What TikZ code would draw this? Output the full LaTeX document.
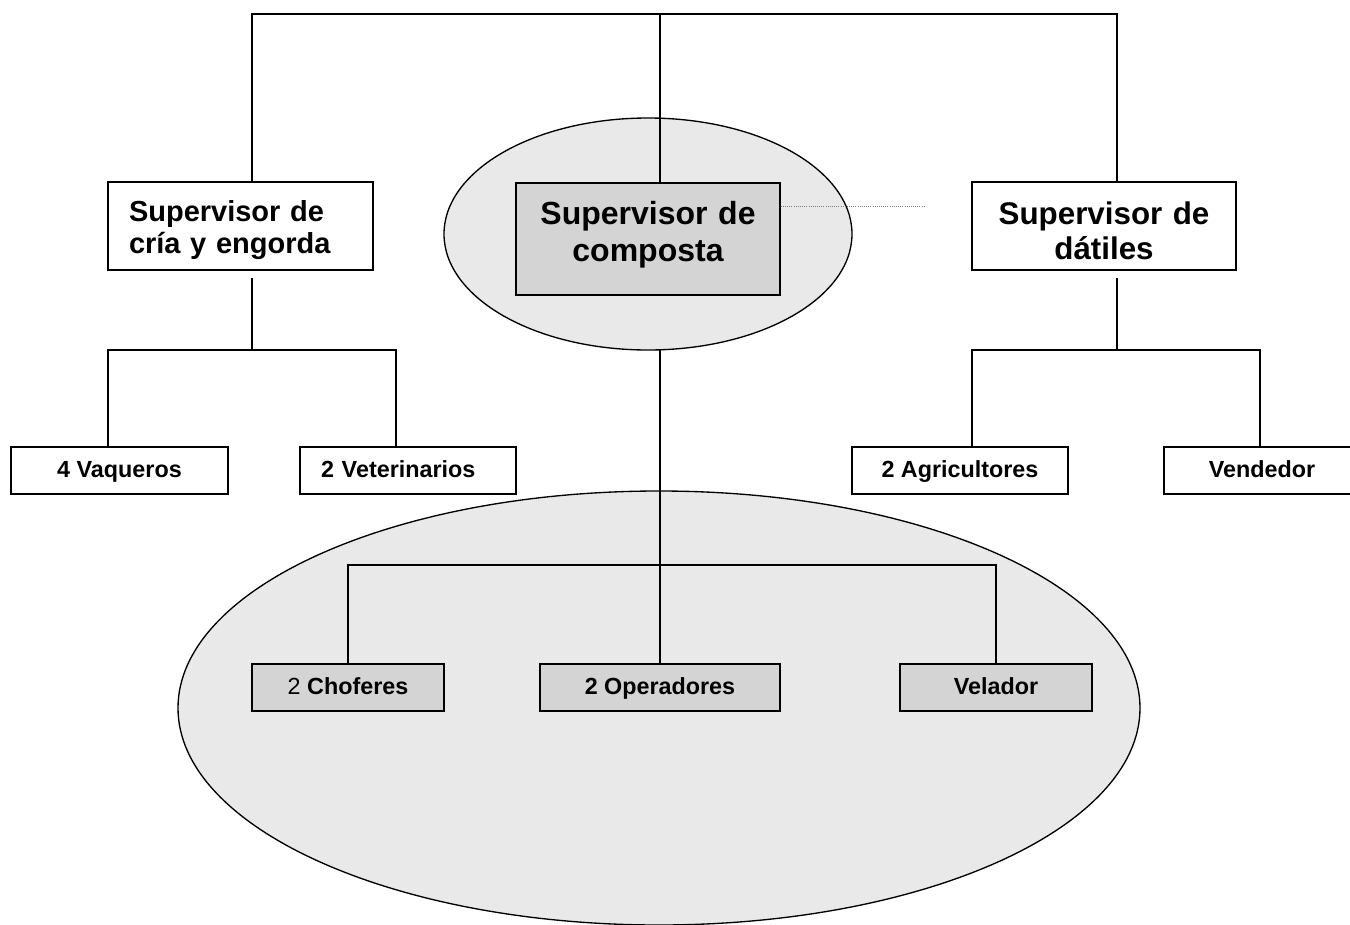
\documentclass[tikz,border=0pt]{standalone}
\usepackage{fontspec}
\setmainfont{Liberation Sans}
\usetikzlibrary{shapes.geometric}
\definecolor{ellfill}{HTML}{E9E9E9}
\definecolor{boxfill}{HTML}{D4D4D4}
\tikzset{
  box/.style={draw=black, line width=1.2pt, inner sep=0pt, anchor=center, fill=white},
  gbox/.style={box, fill=boxfill},
  smalltext/.style={font=\fontsize{17.5}{20}\selectfont\bfseries, text height=12.6pt, text depth=1.5pt},
  conn/.style={draw=black, line width=1.2pt},
  oval/.style={ellipse, draw=black, line width=1pt, fill=ellfill, inner sep=0pt}
}
\begin{document}
\begin{tikzpicture}[x=0.75pt, y=-0.75pt]
\useasboundingbox (0,0) rectangle (1350,925);
% ovals
\node[oval, minimum width=306pt, minimum height=174pt] (eC) at (648,234) {};
\node[oval, minimum width=721.5pt, minimum height=325.5pt] (eL) at (659,708) {};
% supervisors
\node[box, minimum width=198.75pt, minimum height=66pt, text width=167.25pt, align=left,
      text height=21.9pt, text depth=28.6pt,
      font=\fontsize{21.75}{24}\selectfont\bfseries] (supL) at (240.5,226) {Supervisor de\\cría y engorda};
\node[gbox, minimum width=198pt, minimum height=84pt, text width=196pt, align=center,
      text height=11.5pt, text depth=32.8pt,
      font=\fontsize{24}{27.75}\selectfont\bfseries] (supC) at (648,239) {Supervisor de\\composta};
\node[box, minimum width=198pt, minimum height=66pt, text width=196pt, align=center,
      text height=24.7pt, text depth=26.25pt,
      font=\fontsize{23.5}{26.25}\selectfont\bfseries] (supR) at (1104,226) {Supervisor de\\dátiles};
% workers
\node[box, smalltext, minimum width=162.75pt, minimum height=35.25pt] (vaq) at (119.5,470.5) {4 Vaqueros};
\node[box, smalltext, minimum width=162pt, minimum height=35.25pt, text width=130.5pt, align=left] (vet) at (408,470.5) {2 Veterinarios};
\node[box, smalltext, minimum width=162pt, minimum height=35.25pt] (agr) at (960,470.5) {2 Agricultores};
\node[box, smalltext, minimum width=147pt, minimum height=35.25pt] (ven) at (1262,470.5) {Vendedor};
\node[gbox, smalltext, minimum width=144pt, minimum height=35.25pt] (cho) at (348,687.5) {{\mdseries 2} Choferes};
\node[gbox, smalltext, minimum width=180pt, minimum height=35.25pt] (ope) at (660,687.5) {2 Operadores};
\node[gbox, smalltext, minimum width=144pt, minimum height=35.25pt] (vel) at (996,687.5) {Velador};
% junction coordinates
\coordinate (tL) at (252,14);
\coordinate (tC) at (660,14);
\coordinate (tR) at (1117,14);
\coordinate (bL) at (252,278);
\coordinate (jL) at (252,350);
\coordinate (hL1) at (108,350);
\coordinate (hL2) at (396,350);
\coordinate (bR) at (1117,278);
\coordinate (jR) at (1117,350);
\coordinate (hR1) at (972,350);
\coordinate (hR2) at (1260,350);
\coordinate (cbot) at (660,350);
\coordinate (hB1) at (348,565);
\coordinate (hB2) at (996,565);
\coordinate (dotEnd) at (925,206);
% top connectors
\draw[conn] (supL.north -| tL) -- (tL) -- (tR) -- (supR.north -| tR);
\draw[conn] (tC) -- (supC.north -| tC);
% left subtree
\draw[conn] (bL) -- (jL);
\draw[conn] (hL1 |- vaq.north) -- (hL1) -- (hL2) -- (hL2 |- vet.north);
% right subtree
\draw[conn] (bR) -- (jR);
\draw[conn] (hR1 |- agr.north) -- (hR1) -- (hR2) -- (hR2 |- ven.north);
% lower subtree
\draw[conn] (cbot) -- (ope.north);
\draw[conn] (cho.north) -- (hB1) -- (hB2) -- (vel.north);
% dotted link
\draw[gray, line width=0.6pt, densely dotted] (supC.east |- dotEnd) -- (dotEnd);
\end{tikzpicture}
\end{document}
